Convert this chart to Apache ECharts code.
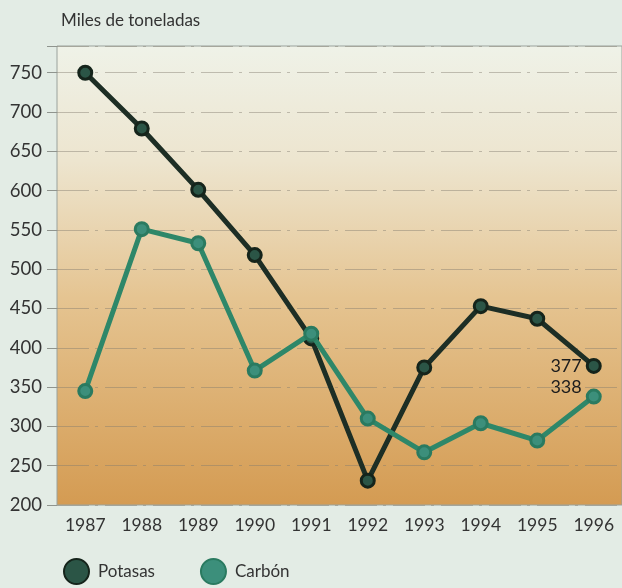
<!DOCTYPE html>
<html>
<head>
<meta charset="utf-8">
<script src="https://cdn.jsdelivr.net/npm/echarts@6/dist/echarts.min.js"></script>
<style>
  html, body { margin: 0; padding: 0; background: #e3ece5; }
  #chart { width: 622px; height: 588px; }
</style>
</head>
<body>
<div id="chart"></div>
<script>
// Production in thousands of tonnes, 1987-1996
const years = ['1987', '1988', '1989', '1990', '1991', '1992', '1993', '1994', '1995', '1996'];
const potasas = [750, 679, 601, 518, 412, 231, 375, 453, 437, 377];
const carbon = [345, 551, 533, 371, 418, 310, 267, 304, 282, 338];
const yTicks = [200, 250, 300, 350, 400, 450, 500, 550, 600, 650, 700, 750];

const FONT = 'Lato, "Open Sans", sans-serif';

const chart = echarts.init(document.getElementById('chart'), null, { renderer: 'canvas' });

function withEndLabel(values, labelOpts) {
  return values.map((v, i) => i === values.length - 1
    ? { value: v, label: Object.assign({ show: true, formatter: String(v) }, labelOpts) }
    : v);
}

const endLabelStyle = {
  fontFamily: FONT, fontSize: 18, color: '#1c1c1c', position: 'left', distance: 4
};

chart.setOption({
  backgroundColor: '#e3ece5',
  animation: false,
  title: {
    text: 'Miles de toneladas',
    left: 56, top: 7,
    textStyle: { fontFamily: FONT, fontSize: 17, fontWeight: 'normal', color: '#333' }
  },
  legend: {
    left: 58, top: 553,
    itemWidth: 25, itemHeight: 25, itemGap: 45,
    icon: 'circle',
    textStyle: { fontFamily: FONT, fontSize: 17, color: '#333', padding: [0, 0, 0, 4] },
    data: ['Potasas', 'Carbón']
  },
  grid: {
    left: 57, right: -5, top: 46, bottom: 83,
    show: true,
    borderColor: '#9aa29c', borderWidth: 1,
    backgroundColor: new echarts.graphic.LinearGradient(0, 0, 0, 1, [
      { offset: 0, color: '#eff2e8' },
      { offset: 0.25, color: '#ede5cf' },
      { offset: 0.55, color: '#e5c491' },
      { offset: 1, color: '#d49b52' }
    ])
  },
  xAxis: {
    type: 'category',
    data: years,
    boundaryGap: true,
    axisLine: { show: false },
    axisTick: { show: false },
    axisLabel: { fontFamily: FONT, fontSize: 17.5, color: '#333', margin: 11 }
  },
  yAxis: {
    type: 'value',
    min: 200, max: 784, interval: 50,
    axisLine: { show: false },
    axisTick: { show: true, length: 10, lineStyle: { color: '#8f948e' } },
    axisLabel: {
      fontFamily: FONT, fontSize: 18.5, color: '#333', margin: 15,
      formatter: v => (yTicks.indexOf(v) >= 0 ? String(v) : '')
    },
    splitLine: {
      show: true,
      lineStyle: { color: 'rgba(130,125,110,0.45)', width: 1, type: [32, 6, 3, 7] }
    }
  },
  series: [
    {
      name: 'Potasas',
      type: 'line',
      data: withEndLabel(potasas, Object.assign({}, endLabelStyle, { offset: [0, 0] })),
      symbol: 'circle', symbolSize: 13,
      lineStyle: { color: '#1d2e25', width: 5 },
      itemStyle: { color: '#2b5546', borderColor: '#15241b', borderWidth: 3 },
      z: 3
    },
    {
      name: 'Carbón',
      type: 'line',
      data: withEndLabel(carbon, Object.assign({}, endLabelStyle, { offset: [0, -9] })),
      symbol: 'circle', symbolSize: 13,
      lineStyle: { color: '#2e8769', width: 5 },
      itemStyle: { color: '#3c8f7b', borderColor: '#2a7a60', borderWidth: 3 },
      z: 4
    }
  ]
});
</script>
</body>
</html>
